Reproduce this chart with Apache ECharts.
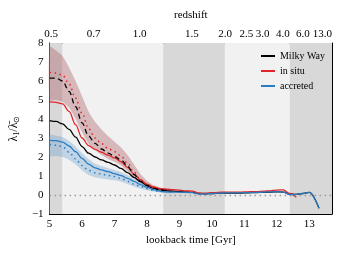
<!DOCTYPE html>
<html><head><meta charset="utf-8">
<script src="https://cdn.jsdelivr.net/npm/echarts@6/dist/echarts.min.js"></script>
<style>html,body{margin:0;padding:0;background:#fff}#c{width:346px;height:260px}</style>
</head><body><div id="c"></div>
<script>
// ---- data ----
const lookback = [5.0,5.2,5.4,5.6,5.8,6.0,6.2,6.4,6.6,6.8,7.0,7.2,7.4,7.6,7.8,8.0,8.2,8.4,8.6,8.8,9.0,9.2,9.4,9.6,9.8,10.0,10.2,10.4,10.6,10.8,11.0,11.2,11.4,11.6,11.8,12.0,12.2,12.4,12.6,12.8,13.0,13.3];
const milkyWay = [3.92,3.87,3.74,3.45,3.05,2.55,2.2,2.0,1.85,1.72,1.58,1.4,1.18,0.93,0.7,0.5,0.36,0.27,0.22,0.2,0.18,0.16,0.14,0.08,0.06,0.08,0.1,0.1,0.1,0.1,0.11,0.12,0.13,0.14,0.15,0.17,0.15,0.05,0.03,0.08,0.14,-0.7];
const inSitu = [4.9,4.88,4.8,4.4,3.7,3.0,2.6,2.4,2.25,2.1,1.95,1.75,1.45,1.1,0.8,0.57,0.42,0.33,0.3,0.28,0.25,0.22,0.2,0.1,0.1,0.12,0.14,0.15,0.15,0.15,0.16,0.17,0.18,0.2,0.22,0.26,0.27,0.08,-0.12,null,null,null];
const accreted = [2.88,2.86,2.78,2.58,2.28,1.93,1.63,1.43,1.32,1.23,1.13,1.02,0.88,0.72,0.55,0.4,0.28,0.2,0.16,0.15,0.15,0.14,0.12,0.05,0.06,0.08,0.1,0.11,0.11,0.11,0.12,0.13,0.14,0.15,0.16,0.18,0.15,0.02,0.03,0.08,0.14,-0.7];
const mwDashed = [6.15,6.15,6.0,5.45,4.65,3.8,3.1,2.72,2.42,2.2,2.03,1.85,1.52,1.08,0.72,0.5,0.36,0.28,0.24];
const inSituDotted = [6.45,6.42,6.3,5.85,5.1,4.3,3.5,3.0,2.7,2.45,2.28,2.05,1.68,1.2,0.8,0.56,0.41,0.32,0.28];
const accretedDotted = [2.66,2.62,2.55,2.25,1.9,1.55,1.3,1.17,1.1,1.03,0.97,0.87,0.72,0.57,0.44,0.33,0.24,0.18,0.15];
const inSituBandHigh = [7.8,7.6,7.3,6.7,6.0,5.2,4.4,3.85,3.45,3.1,2.8,2.5,2.1,1.6,1.1,0.75,0.52,0.4,0.35,0.3];
const inSituBandLow = [5.0,5.0,4.9,4.6,4.0,3.3,2.7,2.35,2.1,1.9,1.75,1.55,1.25,0.9,0.6,0.42,0.32,0.25,0.22,0.2];
const accBandHigh = [3.15,3.12,3.05,2.85,2.55,2.2,1.9,1.65,1.52,1.42,1.32,1.2,1.05,0.88,0.68,0.5,0.36,0.27,0.22,0.2];
const accBandLow = [2.05,2.05,2.0,1.85,1.6,1.3,1.05,0.92,0.87,0.82,0.77,0.7,0.58,0.45,0.33,0.25,0.18,0.13,0.1,0.1];
const bandEdges = [5.0,5.4,8.5,10.4,12.4,13.7];
const redshiftLabels = ['0.5','0.7','1.0','1.5','2.0','2.5','3.0','4.0','6.0','13.0'];
const redshiftPos = [5.05,6.36,7.77,9.38,10.41,11.06,11.56,12.19,12.80,13.40];
const xTicks = [5,6,7,8,9,10,11,12,13];

// ---- build ----
const pair = (ys) => ys.map((y,i)=>[lookback[i], y]).filter(p=>p[1]!==null && p[1]!==undefined);
const font = 'Liberation Serif';
const shades = ['#d8d8d8','#f1f1f1'];
const areas = [];
for (let i=0;i<bandEdges.length-1;i++){
  areas.push([{xAxis:bandEdges[i], itemStyle:{color:shades[i%2]}},{xAxis:bandEdges[i+1]}]);
}
function bandSeries(hi, lo, color){
  return {type:'custom', silent:true, z:1, data:[0],
    renderItem:(params, api)=>{
      const pts=[];
      for (let i=0;i<hi.length;i++) pts.push(api.coord([lookback[i], hi[i]]));
      for (let i=lo.length-1;i>=0;i--) pts.push(api.coord([lookback[i], lo[i]]));
      return {type:'polygon', shape:{points:pts, smooth:0.2}, style:{fill:color}};
    }};
}
const RED='#e0262b', BLUE='#2a7cc0';
const SM = {smooth:0.35, smoothMonotone:'x', symbol:'none'};
const chart = echarts.init(document.getElementById('c'), null, {renderer:'canvas'});
const axisCommon = {
  axisLine:{show:true, onZero:false, lineStyle:{color:'#000', width:1}},
  axisTick:{show:true, inside:true, length:4, lineStyle:{color:'#000', width:1}},
  splitLine:{show:false},
};
chart.setOption({
  animation:false,
  textStyle:{fontFamily:font},
  grid:{left:49, right:14, top:43, bottom:46, containLabel:false},
  legend:{
    data:['Milky Way','in situ','accreted'], orient:'vertical', right:16, top:46,
    itemWidth:14, itemHeight:2, itemGap:5, icon:'rect',
    textStyle:{fontFamily:font, fontSize:10, color:'#000'}, selectedMode:false
  },
  xAxis:[
    Object.assign({}, axisCommon, {type:'value', min:5, max:13.7, position:'bottom',
      axisTick:{show:true, inside:true, length:4, customValues:xTicks, lineStyle:{color:'#000'}},
      axisLabel:{customValues:xTicks, fontFamily:font, fontSize:11, color:'#000', margin:5},
      name:'lookback time [Gyr]', nameLocation:'middle', nameGap:21,
      nameTextStyle:{fontFamily:font, fontSize:11, color:'#000'}}),
    Object.assign({}, axisCommon, {type:'value', min:5, max:13.7, position:'top',
      axisTick:{show:true, inside:true, length:4, customValues:redshiftPos, lineStyle:{color:'#000'}},
      axisLabel:{customValues:redshiftPos, fontFamily:font, fontSize:11, color:'#000', margin:3,
        formatter:(v)=>{const i=redshiftPos.findIndex(p=>Math.abs(p-v)<1e-6); return i>=0?redshiftLabels[i]:'';}},
      name:'redshift', nameLocation:'middle', nameGap:22,
      nameTextStyle:{fontFamily:font, fontSize:11, color:'#000'}})
  ],
  yAxis:[
    Object.assign({}, axisCommon, {type:'value', min:-1, max:8, interval:1, position:'left',
      axisLabel:{fontFamily:font, fontSize:11, color:'#000', margin:6, formatter:(v)=>String(v).replace('-','\u2212')},
      name:'{a|\u03bb}{s|1}{a|/\u03bb\u0304}{s|\u2299}', nameLocation:'middle', nameGap:24, nameRotate:90,
      nameTextStyle:{fontFamily:font, fontSize:11, color:'#000', rich:{a:{fontFamily:font,fontSize:12,color:'#000'}, s:{fontFamily:font,fontSize:8,color:'#000',padding:[6,0,0,0]}}}}),
    Object.assign({}, axisCommon, {type:'value', min:-1, max:8, interval:1, position:'right',
      axisLabel:{show:false}})
  ],
  series:[
    {type:'line', name:'bg', data:[], silent:true, z:0,
      markArea:{silent:true, data:areas},
      markLine:{silent:true, symbol:'none', label:{show:false},
        lineStyle:{color:'#999', type:[1.5,3.5], width:1.3},
        data:[{yAxis:0}]}},
    bandSeries(inSituBandHigh, inSituBandLow, 'rgba(165,80,90,0.36)'),
    bandSeries(accBandHigh, accBandLow, 'rgba(95,155,205,0.33)'),
    Object.assign({type:'line', name:'Milky Way', data:pair(milkyWay), color:'#000', lineStyle:{color:'#000', width:1.3}, z:3}, SM),
    Object.assign({type:'line', name:'in situ', data:pair(inSitu), color:RED, lineStyle:{color:RED, width:1.3}, z:4}, SM),
    Object.assign({type:'line', name:'accreted', data:pair(accreted), color:BLUE, lineStyle:{color:BLUE, width:1.3}, z:5}, SM),
    Object.assign({type:'line', name:'mw_dash', data:pair(mwDashed), lineStyle:{color:'#000', width:1.3, type:[5,3.5]}, z:6}, SM),
    Object.assign({type:'line', name:'is_dot', data:pair(inSituDotted), lineStyle:{color:RED, width:1.5, type:[1.5,3.5]}, z:6}, SM),
    Object.assign({type:'line', name:'acc_dot', data:pair(accretedDotted), lineStyle:{color:BLUE, width:1.5, type:[1.5,3.5]}, z:6}, SM)
  ]
});
</script></body></html>
